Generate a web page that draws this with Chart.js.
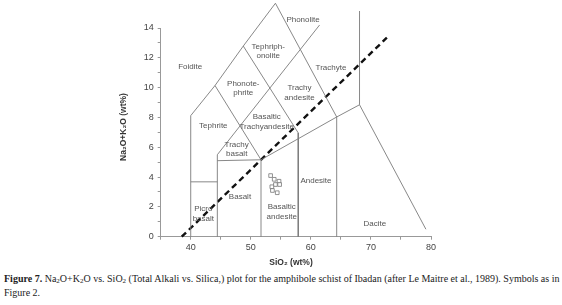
<!DOCTYPE html>
<html lang="en">
  <head>
    <meta charset="UTF-8" />
    <title>TAS diagram</title>
    <script src="https://cdn.jsdelivr.net/npm/chart.js@4.4.1/dist/chart.umd.min.js"></script>
    <style>
      body { margin: 0; background: #fff; width: 562px; height: 305px; overflow: hidden; }
      #wrap { position: relative; width: 562px; height: 268px; }
      #caption {
        position: absolute; left: 4px; top: 272px; width: 556px;
        font-family: "Liberation Serif", "Times New Roman", serif;
        font-size: 10px; line-height: 14px; color: #222; white-space: nowrap;
      }
      #caption sub { font-size: 7px; vertical-align: -1px; line-height: 0; }
    </style>
  </head>
  <body>
    <div id="wrap"><canvas id="tas" width="562" height="268"></canvas></div>
    <div id="caption">
      <b>Figure 7.</b> Na<sub>2</sub>O+K<sub>2</sub>O vs. SiO<sub>2</sub> (Total Alkali vs. Silica,) plot for the amphibole schist of Ibadan (after Le Maitre et al., 1989). Symbols as in<br />Figure 2.
    </div>

    <script>
      // field boundaries, [SiO2, Na2O+K2O]
      const outerBoundary = [[40, 0], [40, 8.12], [44.04, 10.14], [48.75, 12.79], [54.1, 15.66], [64.3, 8.03], [68.1, 8.85], [79.15, 0.5]];
      const picroTop = [[40, 3.68], [44.43, 3.68]];
      const basaltLeft = [[44.43, 0], [44.43, 5.5]];
      const basaltTop = [[44.43, 5.1], [51.7, 5.16]];
      const basaltRight = [[51.7, 0], [51.7, 5.16]];
      const tephriteLine = [[44.04, 10.14], [51.7, 5.16]];
      const phonoteLine = [[48.75, 12.79], [57.9, 6.96], [57.9, 0]];
      const trachyLine = [[44.43, 5.5], [61.45, 14.2]];
      const andesiteTop = [[51.7, 5.16], [64.3, 8.03]];
      const andesiteRight = [[64.3, 0], [64.3, 8.03]];
      const rhyoliteLine = [[68.1, 8.85], [68.1, 15.14]];
      const alkalineDivide = [[38.5, 0], [72.65, 13.35]];

      // amphibole schist samples
      const sio2 = [53.3, 53.9, 54.7, 54.1, 54.8, 53.5, 53.6, 54.4];
      const alkali = [4.1, 3.85, 3.72, 3.5, 3.5, 3.35, 3.1, 2.95];

      const fieldNames = [
        ["Foidite"], ["Phonolite"], ["Tephriph-", "onolite"], ["Phonote-", "phrite"],
        ["Trachy", "andesite"], ["Trachyte"], ["Tephrite"], ["Basaltic", "Trachyandesite"],
        ["Trachy", "basalt"], ["Basalt"], ["Picro", "basalt"], ["Basaltic", "andesite"],
        ["Andesite"], ["Dacite"]
      ];
      const fieldX = [39.9, 58.7, 52.9, 48.75, 58.1, 63.35, 43.76, 52.65, 47.65, 48.2, 42.1, 55.15, 60.85, 70.65];
      const fieldY = [11.42, 14.58, 12.43, 9.96, 9.67, 11.33, 7.45, 7.72, 5.87, 2.65, 1.53, 1.66, 3.77, 0.85];

      const toPts = (arr) => arr.map((p) => ({ x: p[0], y: p[1] }));

      const lineSet = (arr) => ({
        type: "line",
        data: toPts(arr),
        borderColor: "#7a7a7a",
        borderWidth: 0.9,
        pointRadius: 0,
        fill: false,
        tension: 0,
        clip: false,
      });

      const boundaries = [
        outerBoundary, picroTop, basaltLeft, basaltTop, basaltRight, tephriteLine,
        phonoteLine, trachyLine, andesiteTop, andesiteRight, rhyoliteLine,
      ];

      const datasets = boundaries.map(lineSet);
      datasets.push({
        type: "line",
        data: toPts(alkalineDivide),
        borderColor: "#111",
        borderWidth: 2.4,
        borderDash: [6, 4],
        pointRadius: 0,
        clip: false,
      });
      datasets.push({
        type: "scatter",
        data: sio2.map((v, i) => ({ x: v, y: alkali[i] })),
        pointStyle: "rect",
        pointRadius: 2.6,
        borderColor: "#777",
        borderWidth: 0.8,
        backgroundColor: "#fff",
      });

      const labelsPlugin = {
        id: "labels",
        afterDraw(chart) {
          const ctx = chart.ctx;
          const xs = chart.scales.x;
          const ys = chart.scales.y;
          ctx.save();
          ctx.fillStyle = "#555";
          ctx.font = "8px 'Liberation Sans', Arial, sans-serif";
          ctx.textAlign = "center";
          ctx.textBaseline = "middle";
          fieldNames.forEach((lines, i) => {
            const px = xs.getPixelForValue(fieldX[i]);
            const py = ys.getPixelForValue(fieldY[i]);
            const lh = 9.5;
            const y0 = py - ((lines.length - 1) * lh) / 2;
            lines.forEach((t, j) => ctx.fillText(t, px, y0 + j * lh));
          });

          // axis titles
          ctx.fillStyle = "#333";
          ctx.font = "bold 8.5px 'Liberation Sans', Arial, sans-serif";
          ctx.fillText("SiO\u2082 (wt%)", 291, 263);
          ctx.translate(124, 127);
          ctx.rotate(-Math.PI / 2);
          ctx.fillText("Na\u2082O+K\u2082O (wt%)", 0, 0);
          ctx.restore();
        },
      };

      new Chart(document.getElementById("tas"), {
        type: "scatter",
        data: { datasets },
        options: {
          responsive: false,
          animation: false,
          layout: { padding: { top: 28, right: 131, bottom: 0, left: 0 } },
          plugins: { legend: { display: false }, tooltip: { enabled: false } },
          scales: {
            x: {
              type: "linear",
              min: 35,
              max: 80,
              afterFit: (s) => { s.height = 31.3; },
              grid: { drawOnChartArea: false, tickLength: 3, color: "#999" },
              border: { color: "#999", width: 1 },
              ticks: {
                stepSize: 5,
                padding: 2,
                color: "#444",
                font: { family: "'Liberation Sans', Arial, sans-serif", size: 9 },
                callback: (v) => (v % 10 === 0 ? v : ""),
              },
            },
            y: {
              type: "linear",
              min: 0,
              max: 14,
              afterFit: (s) => { s.width = 160.7; },
              grid: { drawOnChartArea: false, tickLength: 3, color: "#999" },
              border: { color: "#999", width: 1 },
              ticks: {
                stepSize: 1,
                padding: 4,
                color: "#444",
                font: { family: "'Liberation Sans', Arial, sans-serif", size: 9 },
                callback: (v) => (v % 2 === 0 ? v : ""),
              },
            },
          },
        },
        plugins: [labelsPlugin],
      });
    </script>
  </body>
</html>
